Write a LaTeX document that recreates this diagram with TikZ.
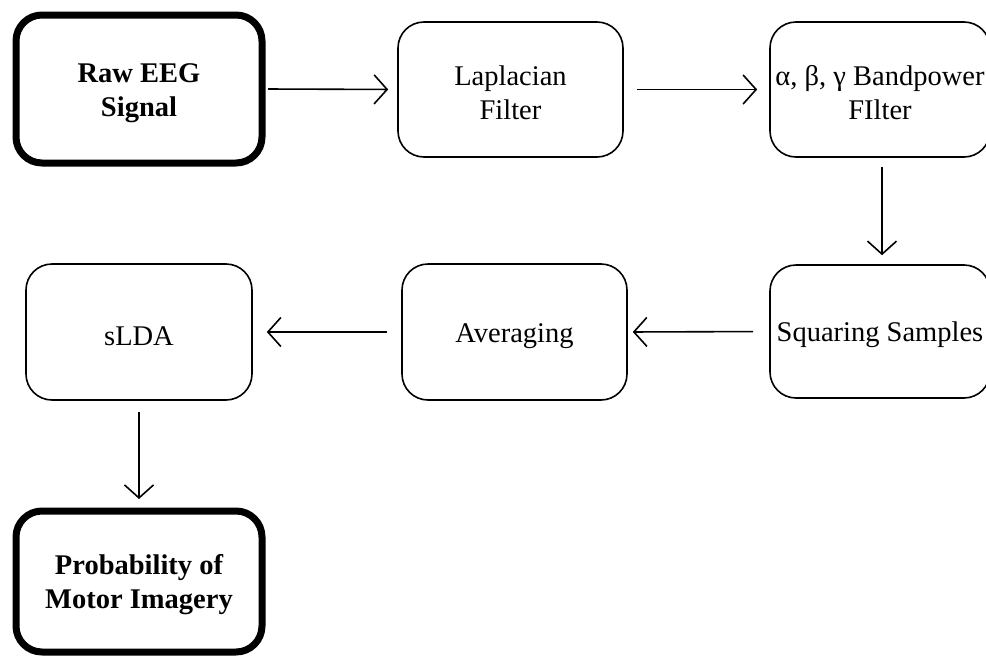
\documentclass[tikz,border=0pt]{standalone}
\usepackage{fontspec}
\setmainfont{Liberation Serif}
\usetikzlibrary{arrows.meta}
\newcommand\topstrut{\rule{0pt}{27pt}}
\begin{document}
\begin{tikzpicture}[x=1pt,y=1pt,
  every node/.style={font=\fontsize{28.5}{34}\selectfont, align=center, inner sep=0pt},
  thinbox/.style={draw, rounded corners=26pt, line width=1.6pt},
  thickbox/.style={draw, rounded corners=26pt, line width=7pt, font=\fontsize{28.5}{34}\selectfont\bfseries},
  flow/.style={line width=1.6pt, -{Straight Barb[length=13pt,width=29pt,line width=1.6pt]}}
]
\useasboundingbox (0,0) rectangle (986,-656);
\begin{scope}
\clip (0,0) rectangle (986,-656);
\node[thickbox, minimum width=246pt, minimum height=148pt] (raw) at (139,-89) {\topstrut Raw EEG\\Signal};
\node[thinbox, minimum width=225pt, minimum height=135pt] (lap) at (510.5,-89.5) {\topstrut Laplacian\\Filter};
\node[thinbox, minimum width=220pt, minimum height=135pt] (band) at (880,-89.5) {\topstrut α, β, γ Bandpower\\FIlter};
\node[thinbox, minimum width=220pt, minimum height=133pt] (sq) at (880,-331.5) {\topstrut Squaring Samples};
\node[thinbox, minimum width=225pt, minimum height=136pt] (avg) at (514.5,-332) {\topstrut Averaging};
\node[thinbox, minimum width=226pt, minimum height=136pt] (slda) at (139,-332) {\topstrut sLDA};
\node[thickbox, minimum width=246pt, minimum height=141pt] (prob) at (139,-581.5) {\topstrut Probability of\\Motor Imagery};
\draw[flow, shorten <=2.5pt, shorten >=9pt] (raw.east) -- (lap.west);
\draw[flow, shorten <=13pt, shorten >=12pt] (lap.east) -- (band.west);
\draw[flow, shorten <=9pt, shorten >=9pt] ([xshift=2pt]band.south) -- ([xshift=2pt]sq.north);
\draw[flow, shorten <=16pt, shorten >=5pt] (sq.west) -- (avg.east);
\draw[flow, shorten <=14pt, shorten >=14pt] (avg.west) -- (slda.east);
\draw[flow, shorten <=11pt, shorten >=8.5pt] (slda.south) -- (prob.north);
\end{scope}
\end{tikzpicture}
\end{document}
